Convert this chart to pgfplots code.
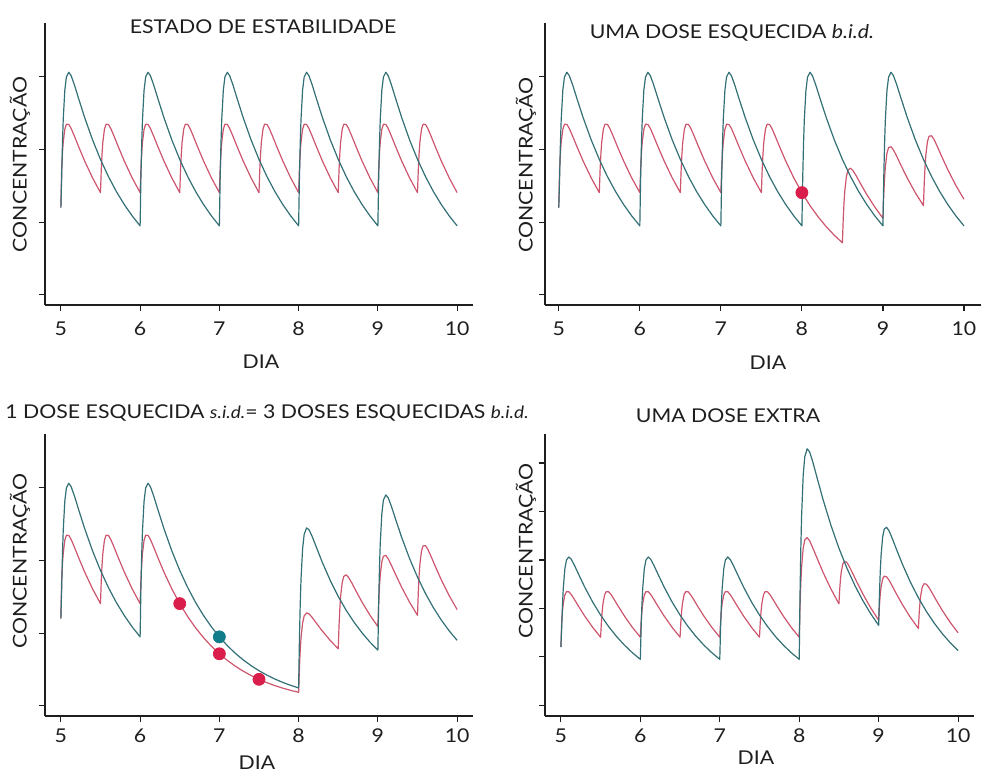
\documentclass[border=0pt]{standalone}
\usepackage{pgfplots}
\pgfplotsset{compat=1.18}
\usepackage{fontspec}
\setmainfont{Lato}[FakeStretch=1.12]
\definecolor{tealL}{RGB}{50,112,118}
\definecolor{redL}{RGB}{205,85,110}
\definecolor{tealD}{RGB}{18,125,138}
\definecolor{redD}{RGB}{218,30,75}
\definecolor{axc}{RGB}{30,30,30}
\newcommand\fs{\fontsize{9.5}{11}\selectfont}
\pgfplotsset{
  panel/.style={
    scale only axis, width=214pt, height=141pt,
    anchor=south west,
    axis x line*=bottom, axis y line*=left,
    axis line style={axc, line width=0.6pt},
    tick style={axc, line width=0.6pt},
    tick align=outside, major tick length=3pt,
    xmin=4.8, xmax=10.2,
    xtick={5,6,7,8,9,10},
    ytick={0,1,2,3}, yticklabels={},
    /pgf/number format/assume math mode=true,
    xticklabel style={font=\fs, text=axc, anchor=center},
    ymin=-0.14, ymax=3.74,
    clip=false,
  },
  sT/.style={tealL, line width=0.6pt, line join=round, no markers},
  sR/.style={redL, line width=0.6pt, line join=round, no markers},
}
\begin{document}
\begin{tikzpicture}
\useasboundingbox (0,0) rectangle (491pt,386pt);
% ---------------- Panel 1 ----------------
\begin{axis}[panel, at={(22.5pt,233.5pt)}, xticklabel style={yshift=-9pt}]
\addplot[sR] coordinates {
(5,1.2)(5.01,1.72)(5.02,1.944)(5.03,2.1)(5.05,2.278)(5.07,2.346)(5.1,2.345)(5.13,2.289)(5.17,2.186)(5.22,2.05)(5.3,1.842)(5.4,1.609)
(5.5,1.406)(5.51,1.72)(5.52,1.944)(5.53,2.1)(5.55,2.278)(5.57,2.346)(5.6,2.345)(5.63,2.289)(5.67,2.186)(5.72,2.05)(5.8,1.842)(5.9,1.609)
(6,1.406)(6.01,1.72)(6.02,1.944)(6.03,2.1)(6.05,2.278)(6.07,2.346)(6.1,2.345)(6.13,2.289)(6.17,2.186)(6.22,2.05)(6.3,1.842)(6.4,1.609)
(6.5,1.406)(6.51,1.72)(6.52,1.944)(6.53,2.1)(6.55,2.278)(6.57,2.346)(6.6,2.345)(6.63,2.289)(6.67,2.186)(6.72,2.05)(6.8,1.842)(6.9,1.609)
(7,1.406)(7.01,1.72)(7.02,1.944)(7.03,2.1)(7.05,2.278)(7.07,2.346)(7.1,2.345)(7.13,2.289)(7.17,2.186)(7.22,2.05)(7.3,1.842)(7.4,1.609)
(7.5,1.406)(7.51,1.72)(7.52,1.944)(7.53,2.1)(7.55,2.278)(7.57,2.346)(7.6,2.345)(7.63,2.289)(7.67,2.186)(7.72,2.05)(7.8,1.842)(7.9,1.609)
(8,1.406)(8.01,1.72)(8.02,1.944)(8.03,2.1)(8.05,2.278)(8.07,2.346)(8.1,2.345)(8.13,2.289)(8.17,2.186)(8.22,2.05)(8.3,1.842)(8.4,1.609)
(8.5,1.406)(8.51,1.72)(8.52,1.944)(8.53,2.1)(8.55,2.278)(8.57,2.346)(8.6,2.345)(8.63,2.289)(8.67,2.186)(8.72,2.05)(8.8,1.842)(8.9,1.609)
(9,1.406)(9.01,1.72)(9.02,1.944)(9.03,2.1)(9.05,2.278)(9.07,2.346)(9.1,2.345)(9.13,2.289)(9.17,2.186)(9.22,2.05)(9.3,1.842)(9.4,1.609)
(9.5,1.406)(9.51,1.72)(9.52,1.944)(9.53,2.1)(9.55,2.278)(9.57,2.346)(9.6,2.345)(9.63,2.289)(9.67,2.186)(9.72,2.05)(9.8,1.842)(9.9,1.609)
(10,1.406)};
\addplot[sT] coordinates {
(5,1.2)(5.01,1.602)(5.02,2.074)(5.03,2.412)(5.05,2.816)(5.07,2.997)(5.1,3.062)(5.13,3.015)(5.17,2.892)(5.22,2.715)(5.3,2.44)(5.4,2.132)(5.5,1.863)(5.6,1.628)(5.7,1.422)(5.8,1.243)(5.9,1.086)
(6,0.949)(6.01,1.602)(6.02,2.074)(6.03,2.412)(6.05,2.816)(6.07,2.997)(6.1,3.062)(6.13,3.015)(6.17,2.892)(6.22,2.715)(6.3,2.44)(6.4,2.132)(6.5,1.863)(6.6,1.628)(6.7,1.422)(6.8,1.243)(6.9,1.086)
(7,0.949)(7.01,1.602)(7.02,2.074)(7.03,2.412)(7.05,2.816)(7.07,2.997)(7.1,3.062)(7.13,3.015)(7.17,2.892)(7.22,2.715)(7.3,2.44)(7.4,2.132)(7.5,1.863)(7.6,1.628)(7.7,1.422)(7.8,1.243)(7.9,1.086)
(8,0.949)(8.01,1.602)(8.02,2.074)(8.03,2.412)(8.05,2.816)(8.07,2.997)(8.1,3.062)(8.13,3.015)(8.17,2.892)(8.22,2.715)(8.3,2.44)(8.4,2.132)(8.5,1.863)(8.6,1.628)(8.7,1.422)(8.8,1.243)(8.9,1.086)
(9,0.949)(9.01,1.602)(9.02,2.074)(9.03,2.412)(9.05,2.816)(9.07,2.997)(9.1,3.062)(9.13,3.015)(9.17,2.892)(9.22,2.715)(9.3,2.44)(9.4,2.132)(9.5,1.863)(9.6,1.628)(9.7,1.422)(9.8,1.243)(9.9,1.086)
(10,0.949)};
\end{axis}
% ---------------- Panel 2 ----------------
\begin{axis}[panel, at={(272.5pt,233.5pt)}, width=218pt, xmin=4.83, xmax=10.21, xticklabel style={yshift=-9pt}]
\addplot[sR] coordinates {
(5,1.2)(5.01,1.72)(5.02,1.944)(5.03,2.1)(5.05,2.278)(5.07,2.346)(5.1,2.345)(5.13,2.289)(5.17,2.186)(5.22,2.05)(5.3,1.842)(5.4,1.609)
(5.5,1.406)(5.51,1.72)(5.52,1.944)(5.53,2.1)(5.55,2.278)(5.57,2.346)(5.6,2.345)(5.63,2.289)(5.67,2.186)(5.72,2.05)(5.8,1.842)(5.9,1.609)
(6,1.406)(6.01,1.72)(6.02,1.944)(6.03,2.1)(6.05,2.278)(6.07,2.346)(6.1,2.345)(6.13,2.289)(6.17,2.186)(6.22,2.05)(6.3,1.842)(6.4,1.609)
(6.5,1.406)(6.51,1.72)(6.52,1.944)(6.53,2.1)(6.55,2.278)(6.57,2.346)(6.6,2.345)(6.63,2.289)(6.67,2.186)(6.72,2.05)(6.8,1.842)(6.9,1.609)
(7,1.406)(7.01,1.72)(7.02,1.944)(7.03,2.1)(7.05,2.278)(7.07,2.346)(7.1,2.345)(7.13,2.289)(7.17,2.186)(7.22,2.05)(7.3,1.842)(7.4,1.609)
(7.5,1.406)(7.51,1.72)(7.52,1.944)(7.53,2.1)(7.55,2.278)(7.57,2.346)(7.6,2.345)(7.63,2.289)(7.67,2.186)(7.72,2.05)(7.8,1.842)(7.9,1.609)
(8,1.406)(8.1,1.228)(8.2,1.073)(8.3,0.938)(8.4,0.819)
(8.5,0.716)(8.51,1.039)(8.52,1.272)(8.53,1.438)(8.55,1.633)(8.57,1.718)(8.6,1.742)(8.63,1.71)(8.67,1.638)(8.72,1.537)(8.8,1.381)(8.9,1.207)
(9,1.054)(9.01,1.373)(9.02,1.601)(9.03,1.763)(9.05,1.95)(9.07,2.026)(9.1,2.037)(9.13,1.994)(9.17,1.907)(9.22,1.788)(9.3,1.607)(9.4,1.404)
(9.5,1.227)(9.51,1.544)(9.52,1.77)(9.53,1.929)(9.55,2.111)(9.57,2.183)(9.6,2.188)(9.63,2.139)(9.67,2.044)(9.72,1.917)(9.8,1.722)(9.9,1.505)
(10,1.315)};
\addplot[sT] coordinates {
(5,1.2)(5.01,1.602)(5.02,2.074)(5.03,2.412)(5.05,2.816)(5.07,2.997)(5.1,3.062)(5.13,3.015)(5.17,2.892)(5.22,2.715)(5.3,2.44)(5.4,2.132)(5.5,1.863)(5.6,1.628)(5.7,1.422)(5.8,1.243)(5.9,1.086)
(6,0.949)(6.01,1.602)(6.02,2.074)(6.03,2.412)(6.05,2.816)(6.07,2.997)(6.1,3.062)(6.13,3.015)(6.17,2.892)(6.22,2.715)(6.3,2.44)(6.4,2.132)(6.5,1.863)(6.6,1.628)(6.7,1.422)(6.8,1.243)(6.9,1.086)
(7,0.949)(7.01,1.602)(7.02,2.074)(7.03,2.412)(7.05,2.816)(7.07,2.997)(7.1,3.062)(7.13,3.015)(7.17,2.892)(7.22,2.715)(7.3,2.44)(7.4,2.132)(7.5,1.863)(7.6,1.628)(7.7,1.422)(7.8,1.243)(7.9,1.086)
(8,0.949)(8.01,1.602)(8.02,2.074)(8.03,2.412)(8.05,2.816)(8.07,2.997)(8.1,3.062)(8.13,3.015)(8.17,2.892)(8.22,2.715)(8.3,2.44)(8.4,2.132)(8.5,1.863)(8.6,1.628)(8.7,1.422)(8.8,1.243)(8.9,1.086)
(9,0.949)(9.01,1.602)(9.02,2.074)(9.03,2.412)(9.05,2.816)(9.07,2.997)(9.1,3.062)(9.13,3.015)(9.17,2.892)(9.22,2.715)(9.3,2.44)(9.4,2.132)(9.5,1.863)(9.6,1.628)(9.7,1.422)(9.8,1.243)(9.9,1.086)
(10,0.949)};
\addplot[only marks, mark=*, mark size=3pt, redD, mark options={draw=redD, fill=redD}] coordinates {(8,1.406)};
\end{axis}
% ---------------- Panel 3 ----------------
\begin{axis}[panel, at={(22.5pt,28pt)}, xticklabel style={yshift=-7pt}]
\addplot[sR] coordinates {
(5,1.2)(5.01,1.72)(5.02,1.944)(5.03,2.1)(5.05,2.278)(5.07,2.346)(5.1,2.345)(5.13,2.289)(5.17,2.186)(5.22,2.05)(5.3,1.842)(5.4,1.609)
(5.5,1.406)(5.51,1.72)(5.52,1.944)(5.53,2.1)(5.55,2.278)(5.57,2.346)(5.6,2.345)(5.63,2.289)(5.67,2.186)(5.72,2.05)(5.8,1.842)(5.9,1.609)
(6,1.406)(6.01,1.72)(6.02,1.944)(6.03,2.1)(6.05,2.278)(6.07,2.346)(6.1,2.345)(6.13,2.289)(6.17,2.186)(6.22,2.05)(6.3,1.842)(6.4,1.609)
(6.5,1.406)(6.6,1.228)(6.7,1.073)(6.8,0.938)(6.9,0.819)(7,0.716)(7.1,0.6255)(7.2,0.5465)(7.3,0.4775)(7.4,0.4172)(7.5,0.3645)(7.6,0.3185)(7.7,0.2782)(7.8,0.2431)(7.9,0.2124)
(8,0.186)(8.01,0.517)(8.02,0.756)(8.03,0.929)(8.05,1.138)(8.07,1.236)(8.1,1.279)(8.13,1.266)(8.17,1.217)(8.22,1.143)(8.3,1.028)(8.4,0.898)
(8.5,0.785)(8.51,1.108)(8.52,1.339)(8.53,1.504)(8.55,1.698)(8.57,1.781)(8.6,1.802)(8.63,1.768)(8.67,1.693)(8.72,1.588)(8.8,1.427)(8.9,1.247)
(9,1.09)(9.01,1.408)(9.02,1.636)(9.03,1.797)(9.05,1.983)(9.07,2.059)(9.1,2.069)(9.13,2.024)(9.17,1.935)(9.22,1.815)(9.3,1.631)(9.4,1.425)
(9.5,1.245)(9.51,1.561)(9.52,1.787)(9.53,1.946)(9.55,2.128)(9.57,2.2)(9.6,2.204)(9.63,2.154)(9.67,2.058)(9.72,1.93)(9.8,1.734)(9.9,1.515)
(10,1.324)};
\addplot[sT] coordinates {
(5,1.2)(5.01,1.602)(5.02,2.074)(5.03,2.412)(5.05,2.816)(5.07,2.997)(5.1,3.062)(5.13,3.015)(5.17,2.892)(5.22,2.715)(5.3,2.44)(5.4,2.132)(5.5,1.863)(5.6,1.628)(5.7,1.422)(5.8,1.243)(5.9,1.086)
(6,0.949)(6.01,1.602)(6.02,2.074)(6.03,2.412)(6.05,2.816)(6.07,2.997)(6.1,3.062)(6.13,3.015)(6.17,2.892)(6.22,2.715)(6.3,2.44)(6.4,2.132)(6.5,1.863)(6.6,1.628)(6.7,1.422)(6.8,1.243)(6.9,1.086)
(7,0.949)(7.1,0.829)(7.2,0.724)(7.3,0.633)(7.4,0.553)(7.5,0.483)(7.6,0.422)(7.7,0.369)(7.8,0.322)(7.9,0.282)
(8,0.246)(8.01,0.909)(8.02,1.39)(8.03,1.737)(8.05,2.158)(8.07,2.358)(8.1,2.448)(8.13,2.425)(8.17,2.333)(8.22,2.193)(8.3,1.971)(8.4,1.723)(8.5,1.505)(8.6,1.315)(8.7,1.149)(8.8,1.004)(8.9,0.877)
(9,0.766)(9.01,1.422)(9.02,1.896)(9.03,2.236)(9.05,2.644)(9.07,2.831)(9.1,2.902)(9.13,2.862)(9.17,2.747)(9.22,2.579)(9.3,2.318)(9.4,2.026)(9.5,1.77)(9.6,1.546)(9.7,1.351)(9.8,1.18)(9.9,1.031)
(10,0.901)};
\addplot[only marks, mark=*, mark size=3pt, redD, mark options={draw=redD, fill=redD}] coordinates {(6.5,1.406)(7,0.716)(7.5,0.3645)};
\addplot[only marks, mark=*, mark size=3pt, tealD, mark options={draw=tealD, fill=tealD}] coordinates {(7,0.949)};
\end{axis}
% ---------------- Panel 4 ----------------
\begin{axis}[panel, at={(272.5pt,28pt)}, width=214.5pt, ymin=-0.22, ymax=5.6, ytick={0,1,2,3,4,5}, xticklabel style={yshift=-7pt}]
\addplot[sR] coordinates {
(5,1.2)(5.01,1.72)(5.02,1.944)(5.03,2.1)(5.05,2.278)(5.07,2.346)(5.1,2.345)(5.13,2.289)(5.17,2.186)(5.22,2.05)(5.3,1.842)(5.4,1.609)
(5.5,1.406)(5.51,1.72)(5.52,1.944)(5.53,2.1)(5.55,2.278)(5.57,2.346)(5.6,2.345)(5.63,2.289)(5.67,2.186)(5.72,2.05)(5.8,1.842)(5.9,1.609)
(6,1.406)(6.01,1.72)(6.02,1.944)(6.03,2.1)(6.05,2.278)(6.07,2.346)(6.1,2.345)(6.13,2.289)(6.17,2.186)(6.22,2.05)(6.3,1.842)(6.4,1.609)
(6.5,1.406)(6.51,1.72)(6.52,1.944)(6.53,2.1)(6.55,2.278)(6.57,2.346)(6.6,2.345)(6.63,2.289)(6.67,2.186)(6.72,2.05)(6.8,1.842)(6.9,1.609)
(7,1.406)(7.01,1.72)(7.02,1.944)(7.03,2.1)(7.05,2.278)(7.07,2.346)(7.1,2.345)(7.13,2.289)(7.17,2.186)(7.22,2.05)(7.3,1.842)(7.4,1.609)
(7.5,1.406)(7.51,1.72)(7.52,1.944)(7.53,2.1)(7.55,2.278)(7.57,2.346)(7.6,2.345)(7.63,2.289)(7.67,2.186)(7.72,2.05)(7.8,1.842)(7.9,1.609)
(8,1.406)(8.01,2.053)(8.02,2.519)(8.03,2.851)(8.05,3.243)(8.07,3.413)(8.1,3.461)(8.13,3.399)(8.17,3.255)(8.22,3.055)(8.3,2.745)(8.4,2.399)
(8.5,2.096)(8.51,2.401)(8.52,2.616)(8.53,2.763)(8.55,2.924)(8.57,2.974)(8.6,2.948)(8.63,2.868)(8.67,2.735)(8.72,2.562)(8.8,2.302)(8.9,2.011)
(9,1.757)(9.01,2.067)(9.02,2.286)(9.03,2.438)(9.05,2.607)(9.07,2.666)(9.1,2.652)(9.13,2.584)(9.17,2.466)(9.22,2.311)(9.3,2.076)(9.4,1.814)
(9.5,1.585)(9.51,1.897)(9.52,2.118)(9.53,2.272)(9.55,2.446)(9.57,2.509)(9.6,2.501)(9.63,2.439)(9.67,2.329)(9.72,2.183)(9.8,1.961)(9.9,1.713)
(10,1.497)};
\addplot[sT] coordinates {
(5,1.2)(5.01,1.602)(5.02,2.074)(5.03,2.412)(5.05,2.816)(5.07,2.997)(5.1,3.062)(5.13,3.015)(5.17,2.892)(5.22,2.715)(5.3,2.44)(5.4,2.132)(5.5,1.863)(5.6,1.628)(5.7,1.422)(5.8,1.243)(5.9,1.086)
(6,0.949)(6.01,1.602)(6.02,2.074)(6.03,2.412)(6.05,2.816)(6.07,2.997)(6.1,3.062)(6.13,3.015)(6.17,2.892)(6.22,2.715)(6.3,2.44)(6.4,2.132)(6.5,1.863)(6.6,1.628)(6.7,1.422)(6.8,1.243)(6.9,1.086)
(7,0.949)(7.01,1.602)(7.02,2.074)(7.03,2.412)(7.05,2.816)(7.07,2.997)(7.1,3.062)(7.13,3.015)(7.17,2.892)(7.22,2.715)(7.3,2.44)(7.4,2.132)(7.5,1.863)(7.6,1.628)(7.7,1.422)(7.8,1.243)(7.9,1.086)
(8,0.949)(8.01,2.268)(8.02,3.225)(8.03,3.913)(8.05,4.744)(8.07,5.131)(8.1,5.295)(8.13,5.234)(8.17,5.03)(8.22,4.725)(8.3,4.247)(8.4,3.712)(8.5,3.243)(8.6,2.833)(8.7,2.476)(8.8,2.163)(8.9,1.89)
(9,1.651)(9.01,2.295)(9.02,2.758)(9.03,3.086)(9.05,3.472)(9.07,3.636)(9.1,3.675)(9.13,3.604)(9.17,3.45)(9.22,3.237)(9.3,2.908)(9.4,2.541)(9.5,2.22)(9.6,1.94)(9.7,1.695)(9.8,1.481)(9.9,1.294)
(10,1.131)};
\end{axis}
% ---------------- Texts ----------------
\begin{scope}[every node/.style={font=\fs, text=axc, inner sep=0pt}]
\node at (131.5pt,372.5pt) {ESTADO DE ESTABILIDADE};
\node at (366pt,369.5pt) {UMA DOSE ESQUECIDA \textit{b.i.d.}};
\node[anchor=west] at (2.5pt,179.5pt) {1 DOSE ESQUECIDA {\fontsize{8.5}{10}\selectfont\textit{s.i.d.}}= 3 DOSES ESQUECIDAS {\fontsize{8.5}{10}\selectfont\textit{b.i.d.}}};
\node at (364pt,178pt) {UMA DOSE EXTRA};
\node at (130.5pt,205pt) {DIA};
\node at (384pt,204.5pt) {DIA};
\node at (128.5pt,4.5pt) {DIA};
\node at (378pt,7pt) {DIA};
\node[rotate=90] at (10pt,303.75pt) {CONCENTRAÇÃO};
\node[rotate=90] at (263pt,303.5pt) {CONCENTRAÇÃO};
\node[rotate=90] at (10pt,105.5pt) {CONCENTRAÇÃO};
\node[rotate=90] at (263pt,110.5pt) {CONCENTRAÇÃO};
\end{scope}
\end{tikzpicture}
\end{document}
